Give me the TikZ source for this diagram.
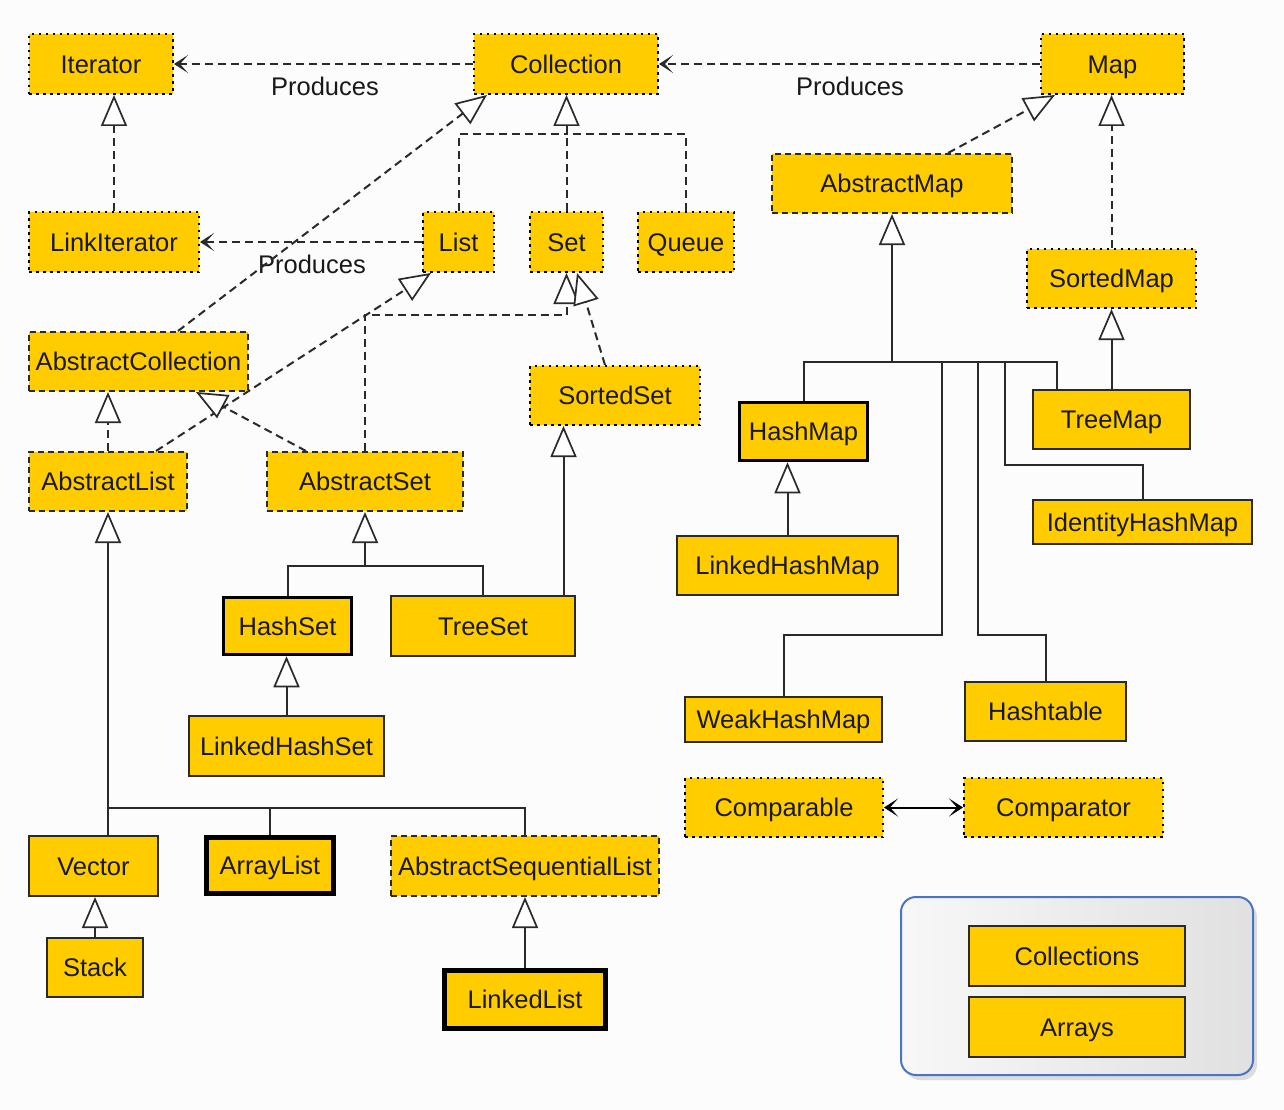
\documentclass[tikz,border=0pt]{standalone}
\usepackage{fontspec}
\setmainfont{Liberation Sans}
\usetikzlibrary{arrows.meta,shadows}
\definecolor{boxy}{HTML}{FFCC00}
\definecolor{ln}{HTML}{2A2A2A}
\definecolor{bgc}{HTML}{FCFCFC}
\definecolor{panelb}{HTML}{4D74C4}
\begin{document}
\begin{tikzpicture}[x=1pt,y=-1pt,
  font=\fontsize{25.5}{30}\selectfont,
  bx/.style={fill=boxy, inner sep=0pt, text=black!90, text height=18.3pt, text depth=0pt},
  wh/.style 2 args={minimum width=#1pt, minimum height=#2pt},
  iface/.style={bx, draw=black, line width=2pt, dash pattern=on 2.5pt off 4.5pt},
  abst/.style={bx, draw=ln, line width=2pt, dash pattern=on 6pt off 4pt},
  cls/.style={bx, draw=ln, line width=2pt},
  kbox/.style={bx, draw=black, line width=3.5pt},
  mbox/.style={bx, draw=black, line width=5.5pt},
  lbl/.style={inner sep=0pt, text=black!90, text height=18.3pt, text depth=0pt},
  dl/.style={draw=ln, line width=2pt, dash pattern=on 8pt off 5pt},
  sl/.style={draw=ln, line width=2pt},
  tri/.style={-{Triangle[length=31pt,width=26pt,fill=white,line width=1.7pt]}},
  prod/.style={dl, -{Stealth[length=14pt,width=18pt,inset=8pt]}},
  panel/.style={draw=panelb, line width=2pt, rounded corners=15pt,
    left color=gray!6, right color=gray!24,
    drop shadow={shadow xshift=4pt, shadow yshift=-5pt, opacity=0.25}}
]
\useasboundingbox (0,0) rectangle (1284,1110);
\fill[bgc] (0,0) rectangle (1284,1110);

% legend panel
\node[panel, wh={352}{178}] (legend) at (1077,986) {};

% interfaces
\node[iface, wh={144}{60}] (Iterator) at (101,64) {Iterator};
\node[iface, wh={184}{60}] (Collection) at (566,64) {Collection};
\node[iface, wh={143}{60}] (Map) at (1112.5,64) {Map};
\node[iface, wh={170}{60}] (LinkIterator) at (114,242) {LinkIterator};
\node[iface, wh={71}{60}] (List) at (458.5,242) {List};
\node[iface, wh={73}{60}] (Set) at (566.5,242) {Set};
\node[iface, wh={96}{60}] (Queue) at (686,242) {Queue};
\node[iface, wh={169}{59}] (SortedMap) at (1111.5,278.5) {SortedMap};
\node[iface, wh={170}{59}] (SortedSet) at (615,395.5) {SortedSet};
\node[iface, wh={198}{59}] (Comparable) at (784,807.5) {Comparable};
\node[iface, wh={199}{59}] (Comparator) at (1063.5,807.5) {Comparator};

% abstract classes
\node[abst, wh={240}{59}] (AbstractMap) at (892,183.5) {AbstractMap};
\node[abst, wh={219}{59}] (AbstractCollection) at (138.5,361.5) {AbstractCollection};
\node[abst, wh={158}{59}] (AbstractList) at (108,481.5) {AbstractList};
\node[abst, wh={196}{59}] (AbstractSet) at (365,481.5) {AbstractSet};
\node[abst, wh={268}{60}] (AbstractSequentialList) at (525,866) {AbstractSequentialList};

% classes
\node[kbox, wh={128}{58}] (HashMap) at (803.5,431.5) {HashMap};
\node[cls, wh={157}{59}] (TreeMap) at (1111.5,419.5) {TreeMap};
\node[cls, wh={219}{44}] (IdentityHashMap) at (1142.5,522) {IdentityHashMap};
\node[cls, wh={221}{59}] (LinkedHashMap) at (787.5,565.5) {LinkedHashMap};
\node[kbox, wh={128}{57}] (HashSet) at (287.5,626) {HashSet};
\node[cls, wh={184}{60}] (TreeSet) at (483,626) {TreeSet};
\node[cls, wh={195}{60}] (LinkedHashSet) at (286.5,746) {LinkedHashSet};
\node[cls, wh={197}{45}] (WeakHashMap) at (783.5,719.5) {WeakHashMap};
\node[cls, wh={161}{59}] (Hashtable) at (1045.5,711.5) {Hashtable};
\node[cls, wh={129}{60}] (Vector) at (93.5,866) {Vector};
\node[mbox, wh={127}{56}] (ArrayList) at (270,865.5) {ArrayList};
\node[cls, wh={96}{59}] (Stack) at (95,967.5) {Stack};
\node[mbox, wh={161}{58}] (LinkedList) at (525,999.5) {LinkedList};
\node[cls, wh={216}{60}] (Collections) at (1077,956) {Collections};
\node[cls, wh={216}{60}] (Arrays) at (1077,1027) {Arrays};

% labels
\node[lbl] (p1) at (325,86) {Produces};
\node[lbl] (p2) at (850,86) {Produces};
\node[lbl] (p3) at (312,264) {Produces};

% produces
\draw[prod] (Collection.west) -- (Iterator.east);
\draw[prod] (Map.west) -- (Collection.east);
\draw[prod] (List.west) -- (LinkIterator.east);

% interface inheritance (dashed)
\draw[dl, tri] (LinkIterator.north) -- (LinkIterator.north |- Iterator.south);
\coordinate (cj) at (566.5,134);
\draw[dl] (List.north) |- (cj);
\draw[dl] (Queue.north) |- (cj);
\draw[dl, tri] (Set.north) -- (Set.north |- Collection.south);
\draw[dl, tri] ([xshift=56pt]AbstractMap.north) -- ([xshift=15pt]Map.south west);
\draw[dl, tri] (SortedMap.north) -- (SortedMap.north |- Map.south);
\draw[dl, tri] ([xshift=39.5pt]AbstractCollection.north) -- ([xshift=14pt]Collection.south west);
\draw[dl, tri] ([xshift=48pt]AbstractList.north) -- ([xshift=9pt]List.south west);
\draw[dl, tri] (AbstractList.north) -- (AbstractList.north |- AbstractCollection.south);
\draw[dl, tri] ([xshift=-59pt]AbstractSet.north) -- ([xshift=57.5pt]AbstractCollection.south);
\coordinate (sj) at (566.5,315);
\draw[dl, tri] (AbstractSet.north) |- (sj) -- (Set.south);
\draw[dl, tri] ([xshift=-10pt]SortedSet.north) -- ([xshift=-27pt]Set.south east);

% class inheritance (solid)
\draw[sl, tri] (TreeMap.north) -- (TreeMap.north |- SortedMap.south);
\coordinate (bus) at (892,362);
\coordinate (wk) at (942,635);
\coordinate (ht) at (978,635);
\coordinate (ih) at (1005,465);
\draw[sl] (HashMap.north) |- (bus);
\draw[sl] ([xshift=25pt]TreeMap.north west) |- (bus);
\draw[sl] (WeakHashMap.north) |- (wk) |- (bus);
\draw[sl] (Hashtable.north) |- (ht) |- (bus);
\draw[sl] (IdentityHashMap.north) |- (ih) |- (bus);
\draw[sl, tri] (bus) -- (AbstractMap.south);
\draw[sl, tri] (LinkedHashMap.north) -- (LinkedHashMap.north |- HashMap.south);

\coordinate (ts) at ([xshift=-12.5pt]TreeSet.north east);
\draw[sl, tri] (ts) -- (ts |- SortedSet.south);
\coordinate (asb) at (365,566);
\draw[sl] (HashSet.north) |- (asb);
\draw[sl] (TreeSet.north) |- (asb);
\draw[sl, tri] (asb) -- (AbstractSet.south);
\draw[sl, tri] (LinkedHashSet.north) -- (LinkedHashSet.north |- HashSet.south);

\coordinate (vt) at ([xshift=14.5pt]Vector.north);
\coordinate (alb) at (vt |- 0,808);
\draw[sl, tri] (vt) -- (vt |- AbstractList.south);
\draw[sl] (ArrayList.north) |- (alb);
\draw[sl] (AbstractSequentialList.north) |- (alb);
\draw[sl, tri] (Stack.north) -- (Stack.north |- Vector.south);
\draw[sl, tri] (LinkedList.north) -- (LinkedList.north |- AbstractSequentialList.south);

% comparable <-> comparator
\draw[draw=black, line width=2pt, {Stealth[length=14pt,width=18pt,inset=8pt]}-{Stealth[length=14pt,width=18pt,inset=8pt]}] (Comparable.east) -- (Comparator.west);
\end{tikzpicture}
\end{document}
